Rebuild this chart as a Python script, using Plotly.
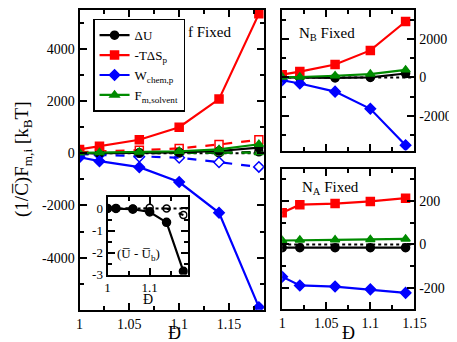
import plotly.graph_objects as go

# ---- data ----
D_f = [1, 1.02, 1.06, 1.1, 1.14, 1.18]
f_dU = [0, 10, 20, 40, 90, 220]
f_TdS = [150, 270, 520, 1000, 2080, 5350]
f_W = [-150, -300, -530, -1100, -2280, -5900]
f_Fsol = [20, 30, 50, 80, 150, 350]
# dashed / open symbols
f_dU_b = [0, 0, 0, 10, 20, 60]
f_TdS_b = [50, 70, 120, 190, 340, 520]
f_W_b = [-30, -60, -130, -170, -340, -520]
f_Fsol_b = [10, 10, 15, 20, 25, 30]

# inset (U - U_b)
ins_U = [0, 0, -0.03, -0.16, -0.63, -2.85]
ins_U_b = [0, 0, 0, 0.03, 0.0, -0.3]

D_n = [1, 1.02, 1.06, 1.1, 1.14]
nb_dU = [0, -20, -30, 0, 200]
nb_TdS = [140, 300, 670, 1400, 2900]
nb_W = [-150, -320, -740, -1630, -3520]
nb_Fsol = [15, 20, 85, 170, 390]

na_dU = [-15, -15, -15, -15, -15]
na_TdS = [145, 182, 187, 197, 212]
na_W = [-148, -188, -193, -206, -222]
na_Fsol = [18, 20, 21, 23, 25]

BLACK, RED, BLUE, GREEN = "#000000", "#ff0000", "#0000ff", "#008b00"
FONT = "Liberation Serif"
W, H = 457, 342

series = [
    ("ΔU", BLACK, "circle"),
    ("-TΔS<sub>p</sub>", RED, "square"),
    ("W<sub>chem,p</sub>", BLUE, "diamond"),
    ("F<sub>m,solvent</sub>", GREEN, "triangle-up"),
]

fig = go.Figure()


def add(x, y, name, color, symbol, xa, ya, dash="solid", legend=False, size=8):
    fig.add_trace(go.Scatter(
        x=x, y=y, name=name, mode="lines+markers",
        line=dict(color=color, width=2.2, dash=dash),
        marker=dict(color=color, symbol=symbol, size=size,
                    line=dict(color=color, width=1.5)),
        xaxis=xa, yaxis=ya, showlegend=legend))


def zero_line(x0, x1, xa, ya):
    fig.add_trace(go.Scatter(x=[x0, x1], y=[0, 0], mode="lines",
                             line=dict(color="black", width=2, dash="dot"),
                             xaxis=xa, yaxis=ya, showlegend=False,
                             hoverinfo="skip"))


# main panel: f fixed
zero_line(1, 1.185, "x", "y")
dashed = [f_dU_b, f_TdS_b, f_W_b, f_Fsol_b]
for (name, c, s), yv in zip(series, dashed):
    add(D_f, yv, name, c, s + "-open", "x", "y", dash="dash")
solid = [f_dU, f_TdS, f_W, f_Fsol]
for (name, c, s), yv in zip(series, solid):
    add(D_f, yv, name, c, s, "x", "y", legend=True)

# inset
zero_line(1, 1.19, "x2", "y2")
add(D_f, ins_U_b, "", BLACK, "circle-open", "x2", "y2", dash="dash", size=7)
add(D_f, ins_U, "", BLACK, "circle", "x2", "y2", size=8)

# N_B fixed
zero_line(1, 1.15, "x3", "y3")
for (name, c, s), yv in zip(series, [nb_dU, nb_TdS, nb_W, nb_Fsol]):
    add(D_n, yv, name, c, s, "x3", "y3")

# N_A fixed
zero_line(1, 1.15, "x4", "y4")
for (name, c, s), yv in zip(series, [na_dU, na_TdS, na_W, na_Fsol]):
    add(D_n, yv, name, c, s, "x4", "y4")


def px_x(a, b):
    return [a / W, b / W]


def px_y(top, bottom):
    return [1 - bottom / H, 1 - top / H]


def xaxis(domain, rng, anchor, dtick, minor, labels=True, size=14):
    return dict(domain=domain, range=rng, anchor=anchor, dtick=dtick,
                showline=True, linecolor="black", linewidth=2, mirror="ticks",
                ticks="inside", ticklen=7, tickwidth=1.5, tickcolor="black",
                minor=dict(dtick=minor, ticks="inside", ticklen=4,
                           tickwidth=1.5, tickcolor="black"),
                showgrid=False, zeroline=False, showticklabels=labels,
                tickfont=dict(family=FONT, size=size, color="black"))


def yaxis(domain, rng, anchor, vals, minor, side="left", size=14):
    return dict(domain=domain, range=rng, anchor=anchor, side=side,
                tickvals=vals, ticktext=[str(v) for v in vals],
                showline=True, linecolor="black", linewidth=2, mirror="ticks",
                ticks="inside", ticklen=7, tickwidth=1.5, tickcolor="black",
                minor=dict(dtick=minor, ticks="inside", ticklen=4,
                           tickwidth=1.5, tickcolor="black"),
                showgrid=False, zeroline=False,
                tickfont=dict(family=FONT, size=size, color="black"))


fig.update_layout(
    width=W, height=H, margin=dict(l=0, r=0, t=0, b=0),
    paper_bgcolor="white", plot_bgcolor="white",
    font=dict(family=FONT, size=14, color="black"),
    xaxis=xaxis(px_x(70, 261), [1, 1.185], "y", 0.05, 0.025),
    yaxis=yaxis(px_y(2, 309), [-6000, 5500], "x",
                [-4000, -2000, 0, 2000, 4000], 1000),
    xaxis2=xaxis(px_x(99, 182), [1, 1.19], "y2", 0.1, 0.05, size=13),
    yaxis2=yaxis(px_y(194, 273), [-3, 0.5], "x2", [-3, -2, -1, 0], 0.5,
                 size=13),
    xaxis3=xaxis(px_x(280, 417), [1, 1.15], "y3", 0.05, 0.025, labels=False),
    yaxis3=yaxis(px_y(2, 146), [-3800, 3500], "x3", [-2000, 0, 2000], 1000,
                 side="right"),
    xaxis4=xaxis(px_x(280, 417), [1, 1.15], "y4", 0.05, 0.025),
    yaxis4=yaxis(px_y(165, 308), [-295, 345], "x4", [-200, 0, 200], 100,
                 side="right"),
    legend=dict(x=84 / W, y=1 - 11 / H, xanchor="left", yanchor="top",
                bordercolor="black", borderwidth=1.5, bgcolor="white",
                font=dict(family=FONT, size=13), itemwidth=30,
                tracegroupgap=0),
)


def label(x, y, text, size, angle=0):
    fig.add_annotation(x=x / W, y=1 - y / H, xref="paper", yref="paper",
                       xanchor="center", yanchor="middle", text=text,
                       textangle=angle, showarrow=False,
                       font=dict(family=FONT, size=size, color="black"))


label(205, 25, "f Fixed", 15)
label(326, 27, "N<sub>B</sub> Fixed", 15)
label(330, 184, "N<sub>A</sub> Fixed", 15)
label(131, 252, "(U\u0305 - U\u0305<sub>b</sub>)", 13)
label(12, 155, "(1/C\u0305)F<sub>m,i</sub> [k<sub>B</sub>T]", 19, angle=-90)
label(168, 333, "Đ", 18)
label(349, 333, "Đ", 18)
label(141, 298, "Đ", 14)

fig.write_html("out.html")
